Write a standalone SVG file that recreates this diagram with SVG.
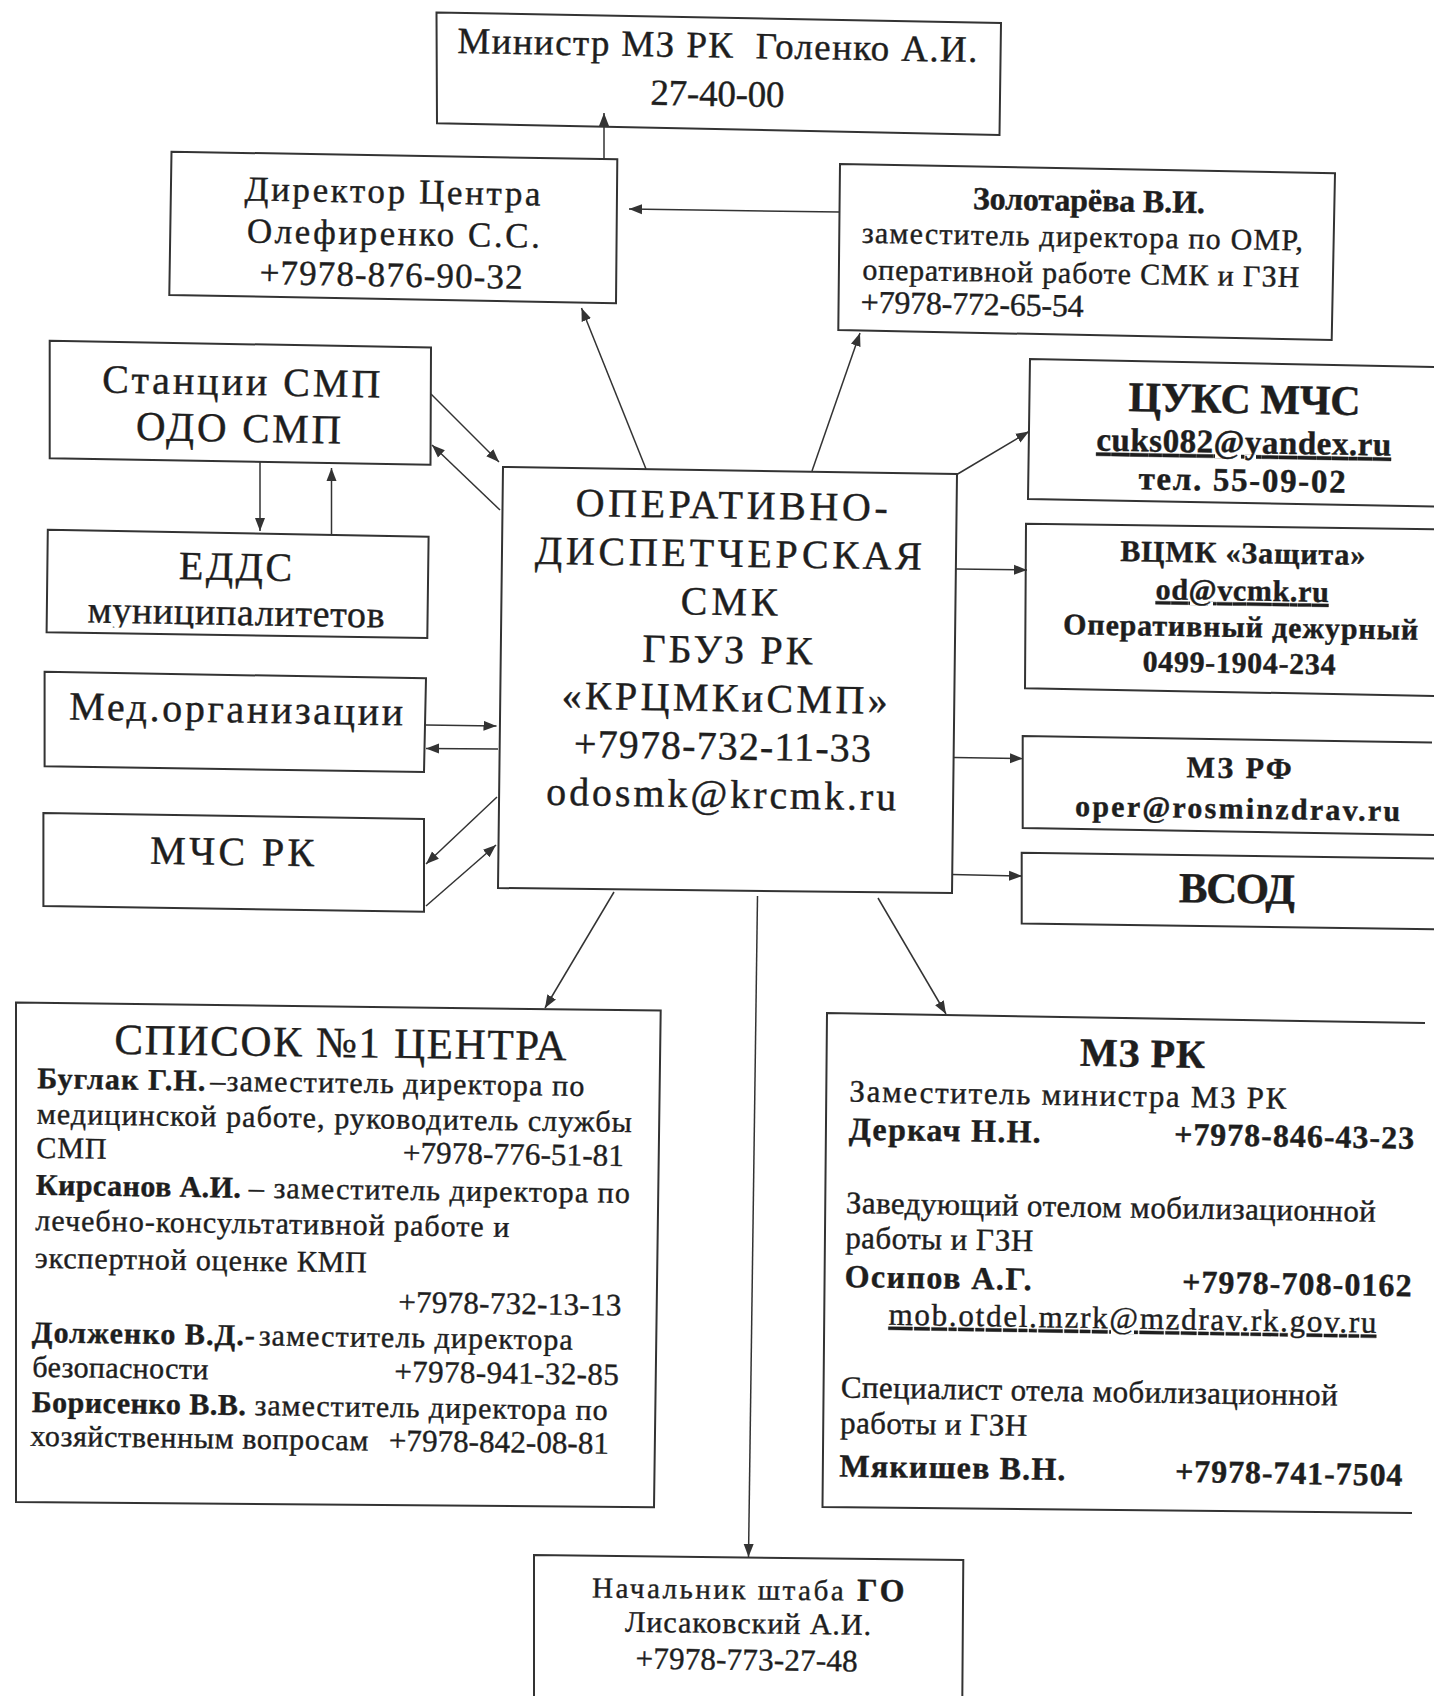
<svg xmlns="http://www.w3.org/2000/svg" width="1434" height="1696" viewBox="0 0 1434 1696">
<style>
.t{font-family:"Liberation Serif","Times New Roman",serif;fill:#1e1e1e;stroke:#1e1e1e;stroke-width:0.4}
.b{font-weight:bold}
.c{text-anchor:middle}
.e{text-anchor:end}
.u{text-decoration:underline}
.box{fill:#fff;stroke:#333;stroke-width:2}
.conn{fill:none;stroke:#333;stroke-width:1.5;marker-end:url(#ah)}
</style>
<defs>
<marker id="ah" markerUnits="userSpaceOnUse" markerWidth="14" markerHeight="12" refX="13" refY="5.5" orient="auto">
<path d="M0,0.5 L13,5.5 L0,10.5 Z" fill="#333"/>
</marker>
<clipPath id="clipEdds" clipPathUnits="userSpaceOnUse">
<path d="M47.8,529.8 L428.6,536.7 L428,632 L46.6,626.5 Z"/>
</clipPath>
</defs>
<rect x="0" y="0" width="1434" height="1696" fill="#fff"/>

<g id="minister">
<path class="box" d="M436.5,12.5 L1001,23 L999.5,135 L437,123.3 Z"/>
<g transform="rotate(1.0 718 68)">
<text class="t c" x="717" y="57.5" font-size="37" textLength="520" xml:space="preserve">Министр МЗ РК  Голенко А.И.</text>
<text class="t c" x="718" y="106" font-size="37" textLength="134">27-40-00</text>
</g>
</g>

<g id="director">
<path class="box" d="M171.5,151.7 L617.3,159.3 L616,303.3 L169.3,295 Z"/>
<g transform="rotate(1.0 393 227)">
<text class="t c" x="392" y="203" font-size="35" textLength="296">Директор Центра</text>
<text class="t c" x="393.5" y="245" font-size="35" textLength="293">Олефиренко С.С.</text>
<text class="t c" x="392" y="286.5" font-size="35" textLength="263">+7978-876-90-32</text>
</g>
</g>

<g id="zolotareva">
<path class="box" d="M840,164 L1335,173.3 L1331.7,340 L838.3,330 Z"/>
<g transform="rotate(1.0 1086 252)">
<text class="t c b" x="1088" y="211" font-size="32" textLength="232">Золотарёва В.И.</text>
<text class="t" x="861.7" y="246.7" font-size="30" textLength="441">заместитель директора по ОМР,</text>
<text class="t" x="862.7" y="283.3" font-size="30" textLength="437">оперативной работе СМК и ГЗН</text>
<text class="t" x="861.7" y="316.7" font-size="32" textLength="223">+7978-772-65-54</text>
</g>
</g>

<g id="stancii">
<path class="box" d="M49.7,340.7 L431,347.5 L430.5,464.7 L49.7,458.2 Z"/>
<g transform="rotate(1.0 240 400)">
<text class="t c" x="241" y="395" font-size="40" textLength="278">Станции СМП</text>
<text class="t c" x="239" y="441.7" font-size="41" textLength="205">ОДО СМП</text>
</g>
</g>

<g id="edds">
<path class="box" d="M47.8,529.8 L428.6,536.7 L427.3,638 L46.6,632.3 Z"/>
<g transform="rotate(1.0 237 583)">
<text class="t c" x="235.3" y="580" font-size="40" textLength="113">ЕДДС</text>
</g>
<g clip-path="url(#clipEdds)">
<g transform="rotate(1.0 237 583)">
<text class="t c" x="236.7" y="625" font-size="38" textLength="297">муниципалитетов</text>
</g>
</g>
</g>

<g id="med">
<path class="box" d="M44.6,671.8 L426,678.3 L424,772 L44.6,766.3 Z"/>
<g transform="rotate(1.0 235 720)">
<text class="t c" x="236" y="722.5" font-size="40" textLength="334">Мед.организации</text>
</g>
</g>

<g id="mchs-rk">
<path class="box" d="M43.4,813 L424,819 L424,911.7 L43.4,906 Z"/>
<g transform="rotate(0.9 233 862)">
<text class="t c" x="232" y="865" font-size="40" textLength="164">МЧС РК</text>
</g>
</g>

<g id="center">
<path class="box" d="M503,467 L957,474 L952,893 L498,888 Z"/>
<g transform="rotate(0.9 727 680)">
<text class="t c" x="729" y="518.5" font-size="40" textLength="312">ОПЕРАТИВНО-</text>
<text class="t c" x="726.5" y="566.7" font-size="40" textLength="387">ДИСПЕТЧЕРСКАЯ</text>
<text class="t c" x="728" y="614.9" font-size="40" textLength="97">СМК</text>
<text class="t c" x="727" y="663.1" font-size="40" textLength="170">ГБУЗ РК</text>
<text class="t c" x="725" y="711.3" font-size="40" textLength="326">«КРЦМКиСМП»</text>
<text class="t c" x="723.5" y="759.5" font-size="40" textLength="297">+7978-732-11-33</text>
<text class="t c" x="723" y="807.7" font-size="40" textLength="350">odosmk@krcmk.ru</text>
</g>
</g>

<g id="cuks">
<path class="box" d="M1440,367 L1030,359 L1028,499 L1440,506.5"/>
<g transform="rotate(1.0 1240 432)">
<text class="t c b" x="1244" y="413" font-size="42" textLength="232">ЦУКС МЧС</text>
<text class="t c b u" x="1244" y="453" font-size="33" textLength="295">cuks082@yandex.ru</text>
<text class="t c b" x="1243" y="491" font-size="33" textLength="207">тел. 55-09-02</text>
</g>
</g>

<g id="vcmk">
<path class="box" d="M1440,529.4 L1026,523.7 L1025,688.3 L1440,696"/>
<g transform="rotate(0.9 1240 606)">
<text class="t c b" x="1242" y="563" font-size="30" textLength="245">ВЦМК «Защита»</text>
<text class="t c b u" x="1242" y="600.5" font-size="30" textLength="173">od@vcmk.ru</text>
<text class="t c b" x="1241" y="637" font-size="30" textLength="355">Оперативный дежурный</text>
<text class="t c b" x="1240" y="673" font-size="30" textLength="193">0499-1904-234</text>
</g>
</g>

<g id="mz-rf">
<path class="box" d="M1432,742.6 L1022.7,736 L1022.7,828 L1440,835"/>
<g transform="rotate(0.9 1238 785)">
<text class="t c b" x="1239" y="778" font-size="30" textLength="105">МЗ РФ</text>
<text class="t c b" x="1238" y="818.5" font-size="30" textLength="325">oper@rosminzdrav.ru</text>
</g>
</g>

<g id="vsod">
<path class="box" d="M1440,858.6 L1021.7,852.8 L1021.7,923.6 L1440,929.4"/>
<g transform="rotate(0.8 1237 890)">
<text class="t c b" x="1237" y="903" font-size="43" textLength="116">ВСОД</text>
</g>
</g>

<g id="spisok">
<path class="box" d="M16,1002.5 L660.7,1010.6 L654,1507.3 L16,1502 Z"/>
<g transform="rotate(0.8 338 1255)">
<text class="t c" x="337.5" y="1057" font-size="43" textLength="452">СПИСОК №1 ЦЕНТРА</text>
<text class="t b" x="35" y="1092.5" font-size="30" textLength="168">Буглак Г.Н.</text>
<text class="t" x="208" y="1092.5" font-size="30" textLength="374">–заместитель директора по</text>
<text class="t" x="35" y="1128" font-size="30" textLength="595">медицинской работе, руководитель службы</text>
<text class="t" x="35" y="1162" font-size="30" textLength="70">СМП</text>
<text class="t" x="401.5" y="1162" font-size="31" textLength="221">+7978-776-51-81</text>
<text class="t b" x="35" y="1199" font-size="30" textLength="205">Кирсанов А.И.</text>
<text class="t" x="248" y="1199" font-size="30" textLength="381">– заместитель директора по</text>
<text class="t" x="35" y="1234.5" font-size="30" textLength="474">лечебно-консультативной работе и</text>
<text class="t" x="35" y="1272" font-size="30" textLength="332">экспертной оценке КМП</text>
<text class="t" x="399" y="1311.5" font-size="31" textLength="223">+7978-732-13-13</text>
<text class="t b" x="33" y="1346.5" font-size="30" textLength="223">Долженко В.Д.-</text>
<text class="t" x="260" y="1346.5" font-size="30" textLength="314">заместитель директора</text>
<text class="t" x="34" y="1381" font-size="30" textLength="176">безопасности</text>
<text class="t" x="396" y="1381" font-size="31" textLength="224.5">+7978-941-32-85</text>
<text class="t b" x="34" y="1416.3" font-size="30" textLength="214">Борисенко В.В.</text>
<text class="t" x="256.7" y="1416.3" font-size="30" textLength="353">заместитель директора по</text>
<text class="t" x="33" y="1450" font-size="30" textLength="338">хозяйственным вопросам</text>
<text class="t" x="391.5" y="1450" font-size="31" textLength="220">+7978-842-08-81</text>
</g>
</g>

<g id="mz-rk">
<path class="box" d="M1425,1023 L827,1013 L822.5,1507 L1412,1513"/>
<g transform="rotate(0.95 1120 1260)">
<text class="t c b" x="1139" y="1066.5" font-size="40" textLength="125">МЗ РК</text>
<text class="t" x="846.7" y="1106" font-size="31" textLength="437">Заместитель министра МЗ РК</text>
<text class="t b" x="846.7" y="1144" font-size="32" textLength="192">Деркач Н.Н.</text>
<text class="t b e" x="1412" y="1144" font-size="32" textLength="240">+7978-846-43-23</text>
<text class="t" x="845" y="1217.5" font-size="31" textLength="530">Заведующий отелом мобилизационной</text>
<text class="t" x="845" y="1252.5" font-size="31" textLength="188">работы и ГЗН</text>
<text class="t b" x="845" y="1291.5" font-size="32" textLength="187">Осипов А.Г.</text>
<text class="t b e" x="1412" y="1291.5" font-size="32" textLength="229.5">+7978-708-0162</text>
<text class="t u" x="889.5" y="1328.5" font-size="31" textLength="488">mob.otdel.mzrk@mzdrav.rk.gov.ru</text>
<text class="t" x="843" y="1402" font-size="31" textLength="497">Специалист отела мобилизационной</text>
<text class="t" x="843" y="1437.5" font-size="31" textLength="187">работы и ГЗН</text>
<text class="t b" x="843" y="1481" font-size="32" textLength="226">Мякишев В.Н.</text>
<text class="t b e" x="1406" y="1481" font-size="32" textLength="227.4">+7978-741-7504</text>
</g>
</g>

<g id="nachalnik">
<path class="box" d="M534,1700 L534,1555 L963.3,1560 L962.3,1700"/>
<g transform="rotate(0.7 748 1630)">
<text class="t" x="591.7" y="1599.3" font-size="29" textLength="251.6">Начальник штаба</text>
<text class="t b" x="856.7" y="1599.3" font-size="32" textLength="47.3">ГО</text>
<text class="t c" x="748" y="1633.3" font-size="30" textLength="246">Лисаковский А.И.</text>
<text class="t c" x="747" y="1670" font-size="31" textLength="222">+7978-773-27-48</text>
</g>
</g>

<g id="connectors">
<line class="conn" x1="604" y1="159" x2="604" y2="113"/>
<line class="conn" x1="839.5" y1="212" x2="629" y2="209"/>
<line class="conn" x1="646" y1="469" x2="581.5" y2="308"/>
<line class="conn" x1="812" y1="471" x2="860" y2="333"/>
<line class="conn" x1="956" y1="475" x2="1029" y2="431.5"/>
<line class="conn" x1="431" y1="394" x2="499" y2="462"/>
<line class="conn" x1="500" y1="510" x2="432" y2="445"/>
<line class="conn" x1="260" y1="462" x2="260" y2="531"/>
<line class="conn" x1="331.5" y1="535" x2="331.5" y2="468"/>
<line class="conn" x1="426" y1="725" x2="496.5" y2="726"/>
<line class="conn" x1="498" y1="749" x2="426" y2="748.5"/>
<line class="conn" x1="497" y1="797" x2="426" y2="864"/>
<line class="conn" x1="426" y1="906" x2="496" y2="845"/>
<line class="conn" x1="614" y1="892" x2="545" y2="1008"/>
<line class="conn" x1="878" y1="898" x2="946" y2="1014"/>
<line class="conn" x1="757.5" y1="896" x2="748.5" y2="1557"/>
<line class="conn" x1="956" y1="569" x2="1027" y2="570"/>
<line class="conn" x1="954" y1="757.5" x2="1023" y2="758.5"/>
<line class="conn" x1="952" y1="874.5" x2="1022" y2="876"/>
</g>
</svg>
